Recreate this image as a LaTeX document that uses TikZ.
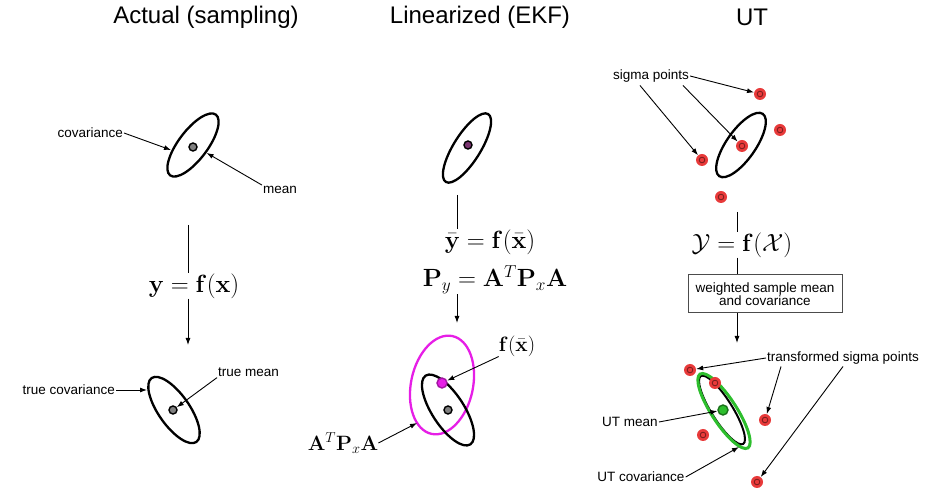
\documentclass[tikz,border=0pt]{standalone}
\usepackage{amsmath, amssymb}
\usepackage[no-math]{fontspec}
\setmainfont{Liberation Sans}
\usepackage{xcolor}
\usepackage{tikz}
\usetikzlibrary{shapes.geometric, arrows.meta, positioning, calc}
\definecolor{SP_RED}{HTML}{E83A3A}
\definecolor{UT_GREEN}{HTML}{2DBE2D}
\definecolor{EKF_MAG}{HTML}{E61EE6}
\definecolor{EKF_PUR}{HTML}{7A3570}
\tikzset{
  ttl/.style={font=\fontsize{24}{28}\selectfont, inner sep=1pt},
  lbl/.style={font=\fontsize{13.5}{14}\selectfont, inner sep=1pt},
  eqn/.style={font=\fontsize{23}{27}\selectfont, inner sep=0pt},
  eqnlbl/.style={font=\fontsize{20}{24}\selectfont, inner sep=0pt},
  covell/.style={
    ellipse, draw=black, line width=2.3pt, inner sep=0pt},
  meandot/.style={
    circle, draw=black, line width=1.4pt, fill=black!50,
    minimum size=8pt, inner sep=0pt},
  sigpt/.style={
    circle, fill=SP_RED, minimum size=12pt, inner sep=0pt,
    path picture={\draw[SP_RED!50!black, line width=0.8pt]
      (path picture bounding box.center) circle (2.8pt);}},
  wbox/.style={
    rectangle, draw=black!70, line width=1pt,
    minimum width=154pt, minimum height=38pt,
    text centered, align=center, inner sep=2pt,
    font=\fontsize{13.5}{13}\selectfont},
  arr/.style={-{Latex[length=7pt,width=5pt]}, line width=0.9pt},
  lnk/.style={line width=0.9pt},
}

\begin{document}
\begin{tikzpicture}[x=1pt, y=1pt]
  \useasboundingbox (0,0) rectangle (930,490);

  % column titles
  \node[ttl] (tact) at (206,473) {Actual (sampling)};
  \node[ttl] (tlin) at (480,473) {Linearized (EKF)};
  \node[ttl] (tut)  at (752,473) {UT};

  % actual (sampling)
  \node[covell, minimum width=76pt, minimum height=29pt, rotate=53] (cov1) at (193,345) {};
  \node[meandot] (mean1) at (193,343) {};
  \node[lbl, anchor=east] (lblcov) at (124,357) {covariance};
  \node[lbl, anchor=west] (lblmean) at (262,300) {mean};
  \coordinate (cov1w) at (171,340);
  \draw[arr] (lblcov.east) -- (cov1w);
  \draw[arr] (lblmean.north west) -- (cov1);

  \coordinate (c1a) at (188,265);
  \coordinate (c1b) at (188,145);
  \node[eqn] (eq1) at (194,204) {$\mathbf{y}=\mathbf{f}(\mathbf{x})$};
  \draw[lnk] (c1a) -- (c1a |- eq1.north);
  \draw[arr] (eq1.south -| c1a) -- (c1b);

  \node[covell, minimum width=78pt, minimum height=31pt, rotate=-55] (cov2) at (174,80) {};
  \node[meandot] (tmean) at (173,80) {};
  \node[lbl, anchor=east] (lbltcov) at (116,100) {true covariance};
  \node[lbl, anchor=west] (lbltmean) at (217,118) {true mean};
  \coordinate (cov2w) at (147,100);
  \draw[arr] (lbltcov.east) -- (cov2w);
  \draw[arr] (lbltmean.south west) -- (tmean);

  % linearized (EKF)
  \node[covell, minimum width=80pt, minimum height=27pt, rotate=58] (cov3) at (467,342) {};
  \node[meandot, fill=EKF_PUR] (mean3) at (468,345) {};

  \coordinate (c2a) at (457,295);
  \coordinate (c2b) at (457,167);
  \node[eqn] (eq2a) at (490,248) {$\bar{\mathbf{y}}=\mathbf{f}(\bar{\mathbf{x}})$};
  \node[eqn] (eq2b) at (495,210) {$\mathbf{P}_y=\mathbf{A}^T\mathbf{P}_x\mathbf{A}$};
  \draw[lnk] (c2a) -- (c2a |- eq2a.north);
  \draw[arr] (eq2b.south -| c2a) -- (c2b);

  \node[covell, draw=EKF_MAG, minimum width=100pt, minimum height=62pt, rotate=78] (linell) at (442,105) {};
  \node[covell, minimum width=82pt, minimum height=32pt, rotate=-57] (cov5) at (448,80) {};
  \node[meandot, draw=EKF_MAG!70!black, fill=EKF_MAG, minimum size=10pt] (fxdot) at (442,107) {};
  \node[meandot] (mean5) at (448,80) {};
  \node[eqnlbl] (lblfx) at (517,144) {$\mathbf{f}(\bar{\mathbf{x}})$};
  \node[eqnlbl] (lblatpa) at (343,47) {$\mathbf{A}^T\mathbf{P}_x\mathbf{A}$};
  \coordinate (linw) at (417,67);
  \draw[arr] (lblfx.south west) -- (fxdot);
  \draw[arr] (lblatpa.east) -- (linw);

  % UT
  \node[covell, minimum width=76pt, minimum height=29pt, rotate=55] (cov6) at (741,345) {};
  \node[sigpt] (s0) at (742,344) {};
  \node[sigpt] (s1) at (760,396) {};
  \node[sigpt] (s2) at (780,360) {};
  \node[sigpt] (s3) at (702,330) {};
  \node[sigpt] (s4) at (721,293) {};
  \node[lbl] (lblsig) at (651,414) {sigma points};
  \draw[arr] (lblsig.east) -- (s1);
  \draw[arr] ($(lblsig.south)+(-11,-2)$) -- (s3);
  \draw[arr] ($(lblsig.south)+(32,-2)$) -- (s0);

  \coordinate (c3a) at (737,278);
  \coordinate (c3b) at (737,147);
  \node[eqn] (eq3) at (742,245) {$\mathcal{Y}=\mathbf{f}(\mathcal{X})$};
  \node[wbox] (wmean) at (765,196) {weighted sample mean\\and covariance};
  \draw[lnk] (c3a) -- (c3a |- eq3.north);
  \draw[lnk] (eq3.south -| c3a) -- (wmean.north -| c3a);
  \draw[arr] (wmean.south -| c3a) -- (c3b);

  \node[covell, minimum width=80pt, minimum height=21pt, line width=2pt, rotate=-58] (cov7) at (722,80) {};
  \node[covell, draw=UT_GREEN, line width=3pt, minimum width=88pt, minimum height=25pt, rotate=-57] (utell) at (724,79) {};
  \node[sigpt] (t1) at (690,120) {};
  \node[sigpt] (t2) at (715,107) {};
  \node[sigpt] (t3) at (765,70) {};
  \node[sigpt] (t4) at (703,55) {};
  \node[sigpt] (t5) at (757,8) {};
  \node[meandot, draw=UT_GREEN!60!black, fill=UT_GREEN, minimum size=10pt] (utmean) at (723,80) {};
  \node[lbl] (lbltsp) at (843,132) {transformed sigma points};
  \node[lbl] (lblutm) at (630,68) {UT mean};
  \node[lbl] (lblutc) at (641,13) {UT covariance};
  \coordinate (utcw) at (739,43);
  \draw[arr] (lbltsp.west) -- (t1);
  \draw[arr] ($(lbltsp.south west)+(15,-1)$) -- (t3);
  \draw[arr] ($(lbltsp.south)+(0,-1)$) -- (t5);
  \draw[arr] (lblutm.east) -- (utmean);
  \draw[arr] (lblutc.east) -- (utcw);

\end{tikzpicture}
\end{document}
